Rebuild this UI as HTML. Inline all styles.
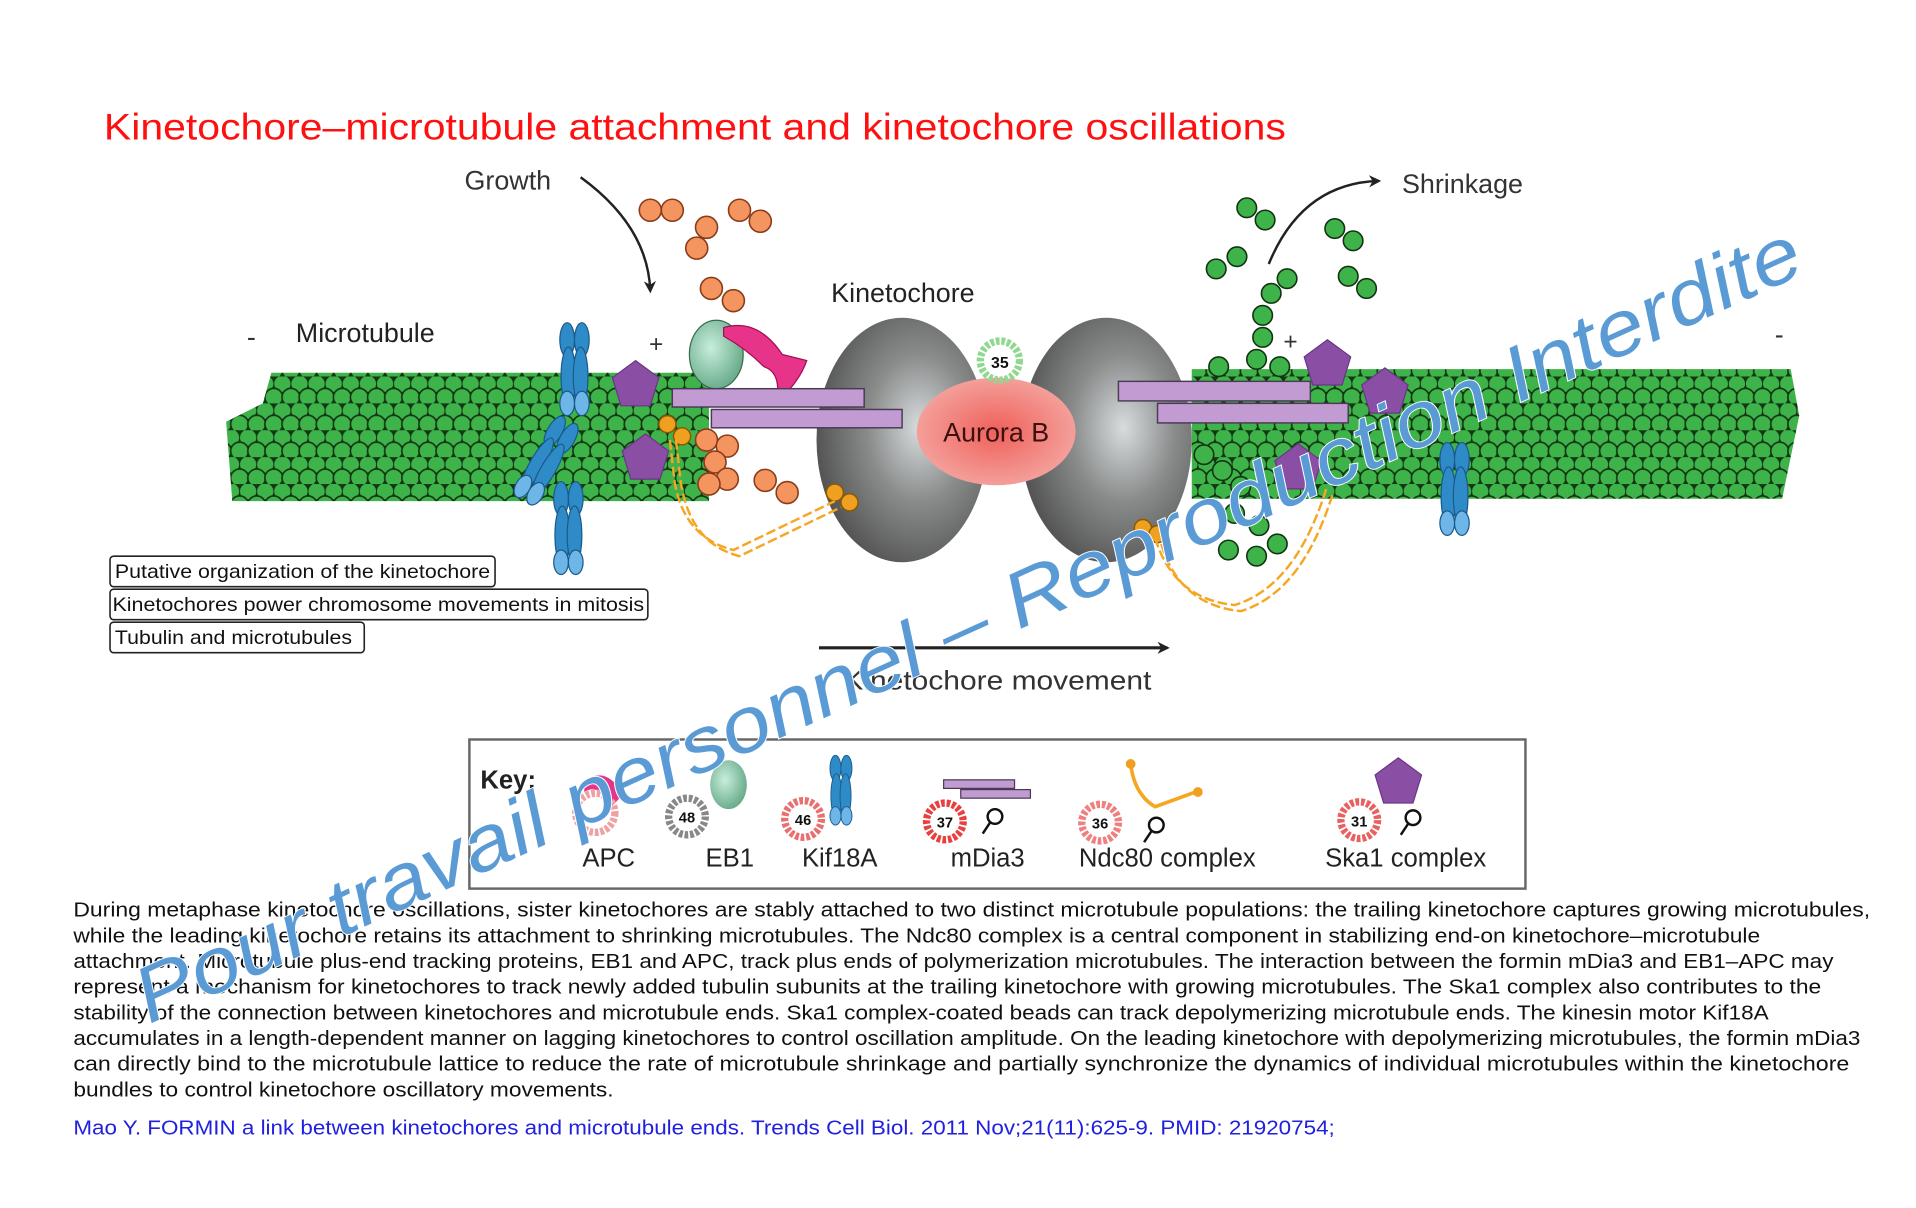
<!DOCTYPE html>
<html><head><meta charset="utf-8"><style>
html,body{margin:0;padding:0;background:#fff;}
svg{display:block;}
</style></head><body>
<svg width="1916" height="1208" viewBox="0 0 1567.5 988.3" xmlns="http://www.w3.org/2000/svg">
<defs>
<pattern id="mt" x="0" y="0" width="14" height="22" patternUnits="userSpaceOnUse">
<rect width="14" height="22" fill="#1a3a1a"/>
<circle cx="7" cy="6" r="7.3" fill="#3db34a" stroke="#123312" stroke-width="1.3"/>
<circle cx="0" cy="17" r="7.3" fill="#3db34a" stroke="#123312" stroke-width="1.3"/>
<circle cx="14" cy="17" r="7.3" fill="#3db34a" stroke="#123312" stroke-width="1.3"/>
</pattern>
<radialGradient id="kg" cx="0.6" cy="0.45" r="0.6">
<stop offset="0" stop-color="#d8dcdc"/><stop offset="0.5" stop-color="#8a8c8c"/><stop offset="1" stop-color="#555"/>
</radialGradient>
<radialGradient id="ar" cx="0.5" cy="0.5" r="0.55">
<stop offset="0" stop-color="#f0605a"/><stop offset="1" stop-color="#f4a5a0"/>
</radialGradient>
<radialGradient id="eb" cx="0.4" cy="0.4" r="0.6">
<stop offset="0" stop-color="#c8eedb"/><stop offset="1" stop-color="#6cae8d"/>
</radialGradient>
<marker id="ah" markerWidth="10" markerHeight="10" refX="8" refY="5" orient="auto" markerUnits="userSpaceOnUse">
<path d="M0,0 L10,5 L0,10 L3,5 Z" fill="#222"/>
</marker>
<g id="xb">
<ellipse cx="-6" cy="-22" rx="6" ry="14" fill="#2f8bc8" stroke="#1a5a8a" stroke-width="1"/>
<ellipse cx="6" cy="-22" rx="6" ry="14" fill="#2f8bc8" stroke="#1a5a8a" stroke-width="1"/>
<ellipse cx="-5" cy="8" rx="6" ry="24" fill="#2f8bc8" stroke="#1a5a8a" stroke-width="1"/>
<ellipse cx="5" cy="8" rx="6" ry="24" fill="#2f8bc8" stroke="#1a5a8a" stroke-width="1"/>
<ellipse cx="-6" cy="30" rx="6" ry="10" fill="#6fb6e8" stroke="#1a5a8a" stroke-width="1"/>
<ellipse cx="6" cy="30" rx="6" ry="10" fill="#6fb6e8" stroke="#1a5a8a" stroke-width="1"/>
</g>
<g id="pent"><polygon points="0,-20 19,-6 12,17 -12,17 -19,-6" fill="#8a4fa5" stroke="#6a3585" stroke-width="1"/></g>
</defs>
<rect width="1567.5" height="988.3" fill="#fff"/>

<text x="85" y="114" font-family="Liberation Sans, sans-serif" font-size="30" fill="#ff1010" textLength="967" lengthAdjust="spacingAndGlyphs">Kinetochore–microtubule attachment and kinetochore oscillations</text>

<g font-family="Liberation Sans, sans-serif" fill="#333">
<text x="380" y="155" font-size="22">Growth</text>
<text x="1147" y="158" font-size="22">Shrinkage</text>
<text x="680" y="247" font-size="22" fill="#222">Kinetochore</text>
<text x="242" y="280" font-size="22" fill="#222">Microtubule</text>
<text x="202" y="283" font-size="22">-</text>
<text x="1452" y="281" font-size="22">-</text>
<text x="531" y="288" font-size="20">+</text>
<text x="1050" y="286" font-size="20">+</text>
</g>
<path d="M475,145 Q530,185 532,238" fill="none" stroke="#222" stroke-width="2" marker-end="url(#ah)"/>
<path d="M1038,216 Q1065,150 1128,148" fill="none" stroke="#222" stroke-width="2" marker-end="url(#ah)"/>

<path d="M222,305 L580,305 L580,410 L190,410 L185,345 L215,330 Z" fill="url(#mt)"/>
<path d="M975,302 L1465,302 L1472,340 L1458,408 L975,408 Z" fill="url(#mt)"/>
<g fill="#3db34a" stroke="#123312" stroke-width="1.3">
<circle cx="1020" cy="170" r="8"/><circle cx="1035" cy="180" r="8"/>
<circle cx="995" cy="220" r="8"/><circle cx="1012" cy="210" r="8"/>
<circle cx="1092" cy="187" r="8"/><circle cx="1107" cy="197" r="8"/>
<circle cx="1103" cy="226" r="8"/><circle cx="1118" cy="236" r="8"/>
<circle cx="1040" cy="240" r="8"/><circle cx="1053" cy="228" r="8"/>
<circle cx="1033" cy="258" r="8"/><circle cx="1033" cy="276" r="8"/><circle cx="1028" cy="294" r="8"/>
<circle cx="997" cy="300" r="8"/><circle cx="1047" cy="300" r="8"/>
<circle cx="985" cy="372" r="8"/><circle cx="1000" cy="385" r="8"/><circle cx="1015" cy="398" r="8"/>
<circle cx="1010" cy="420" r="8"/><circle cx="1030" cy="430" r="8"/><circle cx="1045" cy="445" r="8"/><circle cx="1005" cy="450" r="8"/><circle cx="1028" cy="455" r="8"/>
</g>
<use href="#xb" x="470" y="300"/>
<g transform="translate(448,375) rotate(30)"><use href="#xb"/></g>
<use href="#xb" x="465" y="430"/>
<use href="#xb" x="1190" y="398"/>
<ellipse cx="738" cy="360" rx="70" ry="100" fill="url(#kg)"/>
<ellipse cx="905" cy="360" rx="70" ry="100" fill="url(#kg)"/>
<ellipse cx="815" cy="353" rx="65" ry="44" fill="url(#ar)"/>
<text x="815" y="361" font-family="Liberation Sans, sans-serif" font-size="22" fill="#3a1010" text-anchor="middle">Aurora B</text>
<circle cx="818" cy="295" r="16" fill="none" stroke="#8fd88f" stroke-width="6" stroke-dasharray="3 1.5"/>
<text x="818" y="301" font-family="Liberation Sans, sans-serif" font-size="13" font-weight="bold" text-anchor="middle" fill="#111">35</text>
<g fill="#f4945e" stroke="#8a3c1a" stroke-width="1.3">
<circle cx="532" cy="172" r="9"/><circle cx="550" cy="172" r="9"/>
<circle cx="578" cy="186" r="9"/><circle cx="570" cy="203" r="9"/>
<circle cx="605" cy="172" r="9"/><circle cx="622" cy="181" r="9"/>
<circle cx="582" cy="236" r="9"/><circle cx="600" cy="246" r="9"/>
<circle cx="578" cy="360" r="9"/><circle cx="595" cy="365" r="9"/><circle cx="585" cy="378" r="9"/><circle cx="595" cy="392" r="9"/><circle cx="580" cy="396" r="9"/>
<circle cx="626" cy="393" r="9"/><circle cx="644" cy="403" r="9"/>
</g>
<g fill="#f0a020" stroke="#8a5a00" stroke-width="1.2">
<circle cx="546" cy="347" r="7"/><circle cx="558" cy="357" r="7"/><circle cx="683" cy="403" r="7"/><circle cx="695" cy="411" r="7"/>
<circle cx="935" cy="432" r="7"/><circle cx="947" cy="437" r="7"/>
</g>
<path d="M548,360 L552,395 Q560,440 600,450 L683,410" fill="none" stroke="#f5a623" stroke-width="2" stroke-dasharray="8 3"/>
<path d="M553,360 L557,395 Q565,445 605,455 L688,415" fill="none" stroke="#f5a623" stroke-width="2" stroke-dasharray="8 3"/>
<path d="M945,440 Q960,490 1010,495 Q1060,480 1085,400" fill="none" stroke="#f5a623" stroke-width="2" stroke-dasharray="8 3"/>
<path d="M950,445 Q965,495 1015,500 Q1065,485 1090,405" fill="none" stroke="#f5a623" stroke-width="2" stroke-dasharray="8 3"/>
<ellipse cx="586" cy="290" rx="22" ry="28" fill="url(#eb)" stroke="#3a6a50" stroke-width="1"/>
<path d="M592,268 Q620,260 640,290 L660,295 Q655,310 640,325 L635,330 Q640,305 625,300 Q610,285 592,275 Z" fill="#e8338a" stroke="#a01050" stroke-width="1"/>
<g fill="#c39bd3" stroke="#4a3a55" stroke-width="1.2">
<rect x="550" y="318" width="157" height="15"/><rect x="582" y="335" width="156" height="15"/>
<rect x="915" y="312" width="157" height="16"/><rect x="947" y="330" width="156" height="16"/>
</g>
<use href="#pent" x="520" y="315"/><use href="#pent" x="528" y="375"/>
<use href="#pent" x="1086" y="298"/><use href="#pent" x="1133" y="321"/><use href="#pent" x="1062" y="383"/>

<g font-family="Liberation Sans, sans-serif" font-size="15.5" fill="#111" stroke-width="1.3">
<rect x="90" y="455" width="315" height="25" rx="3" fill="#fff" stroke="#222"/>
<text x="94" y="473" textLength="307" lengthAdjust="spacingAndGlyphs">Putative organization of the kinetochore</text>
<rect x="90" y="482" width="440" height="25" rx="3" fill="#fff" stroke="#222"/>
<text x="92" y="500" textLength="435" lengthAdjust="spacingAndGlyphs">Kinetochores power chromosome  movements in mitosis</text>
<rect x="90" y="509" width="208" height="25" rx="3" fill="#fff" stroke="#222"/>
<text x="94" y="527" textLength="194" lengthAdjust="spacingAndGlyphs">Tubulin and microtubules</text>
</g>
<line x1="670" y1="530" x2="955" y2="530" stroke="#222" stroke-width="2.5" marker-end="url(#ah)"/>
<text x="690" y="564" font-family="Liberation Sans, sans-serif" font-size="22" fill="#333" textLength="252" lengthAdjust="spacingAndGlyphs">Kinetochore movement</text>

<rect x="384" y="605" width="864" height="122" fill="#fff" stroke="#666" stroke-width="2"/>
<g font-family="Liberation Sans, sans-serif" fill="#222">
<text x="393" y="645" font-size="21" font-weight="bold">Key:</text>
<g font-size="21" text-anchor="middle">
<text x="498" y="709">APC</text><text x="597" y="709">EB1</text><text x="687" y="709">Kif18A</text>
<text x="808" y="709">mDia3</text><text x="955" y="709">Ndc80 complex</text><text x="1150" y="709">Ska1 complex</text>
</g>
</g>
<path d="M478,640 Q495,625 510,650 L500,660 Q490,640 478,648 Z" fill="#e8338a"/>
<circle cx="487" cy="665" r="16" fill="none" stroke="#f0a0a0" stroke-width="6" stroke-dasharray="3 1.5"/>
<ellipse cx="596" cy="642" rx="15" ry="20" fill="url(#eb)"/>
<g font-family="Liberation Sans, sans-serif" font-size="12" font-weight="bold" text-anchor="middle" fill="#111">
<circle cx="562" cy="668" r="15" fill="#fff" stroke="#888" stroke-width="6" stroke-dasharray="3 1.5"/><text x="562" y="673">48</text>
<circle cx="657" cy="670" r="15" fill="#fff" stroke="#e87070" stroke-width="6" stroke-dasharray="3 1.5"/><text x="657" y="675">46</text>
<circle cx="773" cy="672" r="15" fill="#fff" stroke="#e84040" stroke-width="6" stroke-dasharray="3 1.5"/><text x="773" y="677">37</text>
<circle cx="900" cy="673" r="15" fill="#fff" stroke="#f08080" stroke-width="6" stroke-dasharray="3 1.5"/><text x="900" y="678">36</text>
<circle cx="1112" cy="671" r="15" fill="#fff" stroke="#e86060" stroke-width="6" stroke-dasharray="3 1.5"/><text x="1112" y="676">31</text>
</g>
<g transform="translate(688,645) scale(0.75)"><use href="#xb"/></g>
<rect x="772" y="638" width="58" height="7" fill="#c39bd3" stroke="#4a3a55"/><rect x="786" y="646" width="57" height="7" fill="#c39bd3" stroke="#4a3a55"/>
<path d="M925,625 Q928,650 945,660 L978,648" fill="none" stroke="#f5a623" stroke-width="3"/>
<circle cx="925" cy="625" r="4" fill="#f0a020"/><circle cx="980" cy="648" r="4" fill="#f0a020"/>
<use href="#pent" x="1144" y="640"/>
<g fill="none" stroke="#111" stroke-width="2">
<circle cx="814" cy="668" r="6"/><line x1="810" y1="673" x2="804" y2="682"/>
<circle cx="946" cy="675" r="6"/><line x1="942" y1="680" x2="936" y2="689"/>
<circle cx="1156" cy="669" r="6"/><line x1="1152" y1="674" x2="1146" y2="683"/>
</g>

<g font-family="Liberation Sans, sans-serif" font-size="16.5" fill="#111">
<text x="60" y="750" textLength="1470" lengthAdjust="spacingAndGlyphs">During metaphase kinetochore oscillations, sister kinetochores are stably attached to two distinct microtubule populations: the trailing kinetochore captures growing microtubules,</text>
<text x="60" y="771" textLength="1380" lengthAdjust="spacingAndGlyphs">while the leading kinetochore retains its attachment to shrinking microtubules. The Ndc80 complex is a central component in stabilizing end-on kinetochore–microtubule</text>
<text x="60" y="792" textLength="1440" lengthAdjust="spacingAndGlyphs">attachment. Microtubule plus-end tracking proteins, EB1 and APC, track plus ends of polymerization microtubules. The interaction between the formin mDia3 and EB1–APC may</text>
<text x="60" y="813" textLength="1430" lengthAdjust="spacingAndGlyphs">represent a mechanism for kinetochores to track newly added tubulin subunits at the trailing kinetochore with growing microtubules. The Ska1 complex also contributes to the</text>
<text x="60" y="834" textLength="1387" lengthAdjust="spacingAndGlyphs">stability of the connection between kinetochores and microtubule ends. Ska1 complex-coated beads can track depolymerizing microtubule ends. The kinesin motor Kif18A</text>
<text x="60" y="855" textLength="1462" lengthAdjust="spacingAndGlyphs">accumulates in a length-dependent manner on lagging kinetochores to control oscillation amplitude. On the leading kinetochore with depolymerizing microtubules, the formin mDia3</text>
<text x="60" y="876" textLength="1453" lengthAdjust="spacingAndGlyphs">can directly bind to the microtubule lattice to  reduce the rate of microtubule shrinkage and partially synchronize the dynamics of individual microtubules within the kinetochore</text>
<text x="60" y="897" textLength="442" lengthAdjust="spacingAndGlyphs">bundles to control kinetochore oscillatory movements.</text>
</g>
<text x="60" y="928" font-family="Liberation Sans, sans-serif" font-size="16.5" fill="#2020e0" textLength="1032" lengthAdjust="spacingAndGlyphs">Mao Y. FORMIN a link between kinetochores and microtubule ends. Trends Cell Biol. 2011 Nov;21(11):625-9. PMID: 21920754;</text>

<text x="0" y="0" transform="translate(122,838) rotate(-24.4)" font-family="Liberation Sans, sans-serif" font-size="64" font-style="italic" fill="#5b9bd5" stroke="#fff" stroke-width="1.5" paint-order="stroke" textLength="1490" lengthAdjust="spacingAndGlyphs">Pour travail personnel – Reproduction Interdite</text>
</svg>
</body></html>
